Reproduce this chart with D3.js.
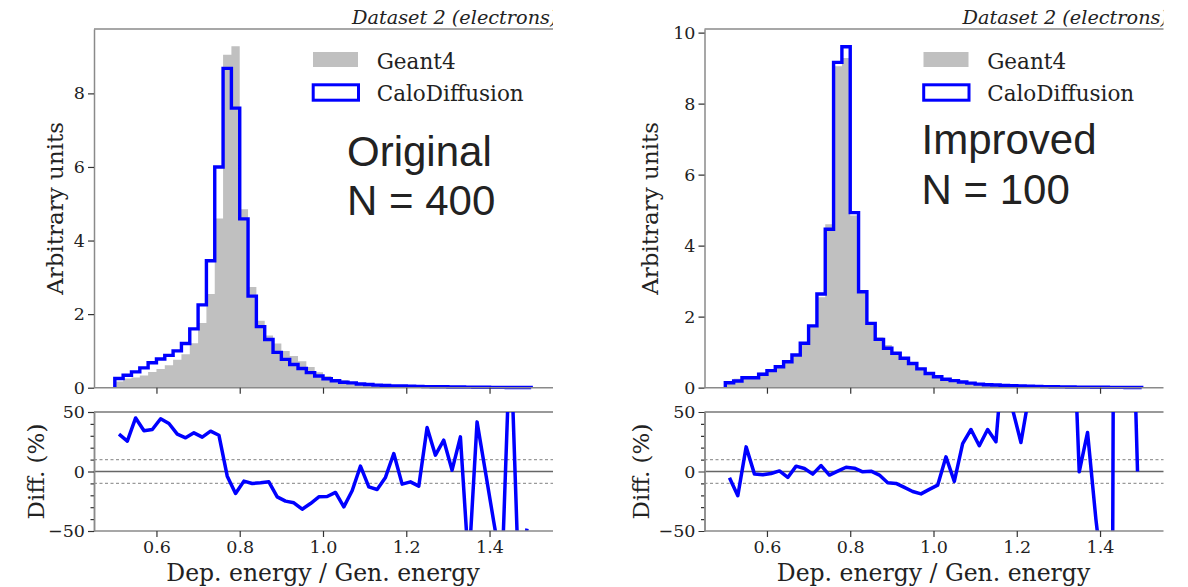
<!DOCTYPE html>
<html>
<head>
<meta charset="utf-8">
<script src="https://cdn.jsdelivr.net/npm/d3@7"></script>
<style>
  body { margin: 0; background: #fff; }
  svg text { fill: #222; }
  .serif { font-family: "DejaVu Serif", serif; }
  .sans { font-family: "Liberation Sans", Arial, sans-serif; }
</style>
</head>
<body>
<svg id="chart" width="1188" height="587"></svg>
<script>
// histogram binning (x = deposited / generated energy)
const binLow = 0.5
const binWidth = 0.02
const nBins = 50

const xTicks = [0.6, 0.8, 1.0, 1.2, 1.4]
const diffTicks = [-50, 0, 50]
const diffMinor = [-40, -30, -20, -10, 10, 20, 30, 40]

// Geant4 reference (same in both panels)
const geant4 = [0.17, 0.25, 0.28, 0.33, 0.43, 0.51, 0.61, 0.76, 0.91, 1.21,
  1.76, 2.55, 4.6, 9.05, 9.28, 4.85, 2.74, 1.82, 1.42, 1.2,
  1.0, 0.86, 0.72, 0.56, 0.42, 0.32, 0.22, 0.2, 0.15, 0.11,
  0.09, 0.075, 0.063, 0.05, 0.045, 0.04, 0.035, 0.028, 0.024, 0.02,
  0.018, 0.015, 0.013, 0.011, 0.01, 0.008, 0.007, 0.006, 0.005, 0.004]

// CaloDiffusion, original (N = 400)
const caloOriginal = [0.25, 0.34, 0.43, 0.54, 0.68, 0.78, 0.88, 1.0, 1.2, 1.6,
  2.25, 3.45, 6.0, 8.68, 7.6, 4.59, 2.49, 1.66, 1.31, 0.96,
  0.77, 0.63, 0.52, 0.41, 0.32, 0.245, 0.19, 0.15, 0.13, 0.1,
  0.085, 0.07, 0.06, 0.05, 0.045, 0.04, 0.035, 0.03, 0.027, 0.024,
  0.02, 0.018, 0.015, 0.013, 0.011, 0.01, 0.008, 0.007, 0.006, 0.005]

// CaloDiffusion, improved (N = 100)
const caloImproved = [0.14, 0.19, 0.28, 0.28, 0.38, 0.48, 0.59, 0.73, 0.92, 1.25,
  1.74, 2.64, 4.46, 9.16, 9.6, 4.93, 2.7, 1.81, 1.36, 1.11,
  0.97, 0.83, 0.68, 0.53, 0.4, 0.31, 0.24, 0.2, 0.16, 0.13,
  0.1, 0.085, 0.075, 0.065, 0.055, 0.048, 0.042, 0.036, 0.031, 0.027,
  0.023, 0.02, 0.017, 0.015, 0.013, 0.011, 0.009, 0.008, 0.007, 0.006]

// relative difference in %, one value per bin centre
const diffOriginal = [31.4, 25.5, 45, 34.2, 35.3, 44.3, 40.3, 31.4, 28.3, 32.5,
  28.9, 33.9, 30.5, -3.9, -18.5, -8.1, -10.1, -9.5, -8.7, -21.3,
  -24.9, -26.3, -31.7, -26.9, -21.3, -21, -17.6, -29.7, -16.2, 4.5,
  -12.9, -15.1, -5, 15.1, -10.6, -8.7, -12.3, 37, 13.7, 26.3,
  1.1, 29.1, -80, 41.7, 0, -42, -83, 117, -92, -48]

const diffImproved = [-5.3, -20.4, 20.7, -2.2, -2.8, -1.7, 0.5, -5, 4.5, 2.5,
  -2.2, 5, -3, 0.3, 3.6, 2.8, -0.3, 0.3, -3, -9.5,
  -10, -13.4, -16.8, -18.8, -15, -11.5, 12.3, -8.4, 23.5, 35.3,
  21.6, 35.3, 25, 110, 52, 24.4, 65, 150, 120, 200,
  140, 180, -0.3, 32.8, -40, -100, -100, 1900, 250, 0]

const panels = [
  { ox: 0, calo: caloOriginal, diff: diffOriginal, yMax: 9.75, yTicks: [0, 2, 4, 6, 8],
    note: ["Original", "N = 400"], noteX: 347, noteY: [166, 215], clipW: 553 },
  { ox: 610.5, calo: caloImproved, diff: diffImproved, yMax: 10.1, yTicks: [0, 2, 4, 6, 8, 10],
    note: ["Improved", "N = 100"], noteX: 311, noteY: [154, 204], clipW: 553 }
]

const svg = d3.select("#chart")
const spine = "#8a8a8a"
const top_y = [29, 387.7]
const diff_y = [531, 412]

const edges = d3.range(nBins + 1).map(i => binLow + i * binWidth)
const centers = d3.range(nBins).map(i => binLow + (i + 0.5) * binWidth)

function style_axis(g, size) {
  g.select(".domain").attr("stroke", spine).attr("stroke-width", 1.5)
  g.selectAll(".tick line").attr("stroke", "#333").attr("stroke-width", 1.2)
  g.selectAll(".tick text").attr("class", "serif").style("font-size", size + "px").attr("fill", "#222")
}

function draw_panel(p, idx) {
  const clipId = "clip_panel_" + idx
  svg.append("clipPath").attr("id", clipId)
    .append("rect").attr("x", p.ox).attr("y", 0).attr("width", p.clipW).attr("height", 587)
  const g = svg.append("g").attr("clip-path", `url(#${clipId})`)

  const x = d3.scaleLinear().domain([0.45, 1.55]).range([p.ox + 94, p.ox + 552])
  const y = d3.scaleLinear().domain([0, p.yMax]).range([top_y[1], top_y[0]])
  const yd = d3.scaleLinear().domain([-50, 50]).range(diff_y)

  // ---- top histogram ----
  const areaPts = geant4.map((v, i) => [edges[i], v]).concat([[edges[nBins], geant4[nBins - 1]]])
  g.append("path")
    .attr("d", d3.area().curve(d3.curveStepAfter)
      .x(d => x(d[0])).y0(y(0)).y1(d => y(d[1]))(areaPts))
    .attr("fill", "#c0c0c0")

  const stepPts = [[edges[0], 0]]
    .concat(p.calo.map((v, i) => [edges[i], v]))
    .concat([[edges[nBins], p.calo[nBins - 1]], [edges[nBins], 0]])
  g.append("path")
    .attr("d", d3.line().curve(d3.curveStepAfter).x(d => x(d[0])).y(d => y(d[1]))(stepPts))
    .attr("fill", "none").attr("stroke", "#0000ff").attr("stroke-width", 3.4)

  // spines
  g.append("line").attr("x1", x.range()[0]).attr("x2", x.range()[1] + 2)
    .attr("y1", top_y[0]).attr("y2", top_y[0]).attr("stroke", spine).attr("stroke-width", 1.5)

  const yAxis = g.append("g").attr("transform", `translate(${x.range()[0]},0)`)
    .call(d3.axisLeft(y).tickValues(p.yTicks).tickSize(6).tickSizeOuter(0).tickPadding(3).tickFormat(d3.format("d")))
  style_axis(yAxis, 17.5)

  const xAxisTop = g.append("g").attr("transform", `translate(0,${top_y[1]})`)
    .call(d3.axisBottom(x).tickValues(xTicks).tickSize(6).tickSizeOuter(0).tickFormat(""))
  style_axis(xAxisTop, 17)
  xAxisTop.select(".domain").attr("d", `M${x.range()[0]},0H${x.range()[1] + 2}`)

  g.append("text").attr("class", "serif")
    .attr("transform", `translate(${p.ox + (idx ? 47.5 : 63)},${(top_y[0] + top_y[1]) / 2}) rotate(-90)`)
    .attr("text-anchor", "middle").style("font-size", "23px").text("Arbitrary units")

  // title
  g.append("text").attr("class", "serif").attr("x", p.ox + 352).attr("y", 24)
    .style("font-size", "19.3px").style("font-style", "italic").text("Dataset 2 (electrons)")

  // legend
  g.append("rect").attr("x", p.ox + 313).attr("y", 52).attr("width", 45).attr("height", 15).attr("fill", "#c0c0c0")
  g.append("rect").attr("x", p.ox + 313.2).attr("y", 84.8).attr("width", 45.3).attr("height", 15.4)
    .attr("fill", "none").attr("stroke", "#0000ff").attr("stroke-width", 3)
  g.append("text").attr("class", "serif").attr("x", p.ox + 376.7).attr("y", 68.5)
    .style("font-size", "21.5px").text("Geant4")
  g.append("text").attr("class", "serif").attr("x", p.ox + 376.7).attr("y", 100.5)
    .style("font-size", "21.5px").text("CaloDiffusion")

  // annotation
  p.note.forEach((t, k) => {
    g.append("text").attr("class", "sans").attr("x", p.ox + p.noteX).attr("y", p.noteY[k])
      .style("font-size", "42px").attr("fill", "#000").text(t)
  })

  // ---- ratio panel ----
  const hline = (v, color, w, dash) => g.append("line")
    .attr("x1", x.range()[0]).attr("x2", x.range()[1] + 2)
    .attr("y1", yd(v)).attr("y2", yd(v))
    .attr("stroke", color).attr("stroke-width", w).attr("stroke-dasharray", dash)
  hline(10, "#9a9a9a", 1.2, "3,2.5")
  hline(-10, "#9a9a9a", 1.2, "3,2.5")
  hline(0, "#666", 1.6, null)
  hline(50, "#777", 1.5, null)

  const diffClip = "clip_diff_" + idx
  svg.append("clipPath").attr("id", diffClip)
    .append("rect").attr("x", x.range()[0]).attr("y", diff_y[1]).attr("width", x.range()[1] - x.range()[0])
    .attr("height", diff_y[0] - diff_y[1])
  g.append("g").attr("clip-path", `url(#${diffClip})`)
    .append("path")
    .attr("d", d3.line().x((d, i) => x(centers[i])).y(d => yd(d))(p.diff))
    .attr("fill", "none").attr("stroke", "#0000ff").attr("stroke-width", 3.5).attr("stroke-linejoin", "round")

  const ydMinor = g.append("g").attr("transform", `translate(${x.range()[0]},0)`)
    .call(d3.axisLeft(yd).tickValues(diffMinor).tickSize(3.5).tickSizeOuter(0).tickFormat(""))
  style_axis(ydMinor, 17)
  const ydAxis = g.append("g").attr("transform", `translate(${x.range()[0]},0)`)
    .call(d3.axisLeft(yd).tickValues(diffTicks).tickSize(6).tickSizeOuter(0).tickPadding(3))
  style_axis(ydAxis, 17.5)

  const xAxis = g.append("g").attr("transform", `translate(0,${diff_y[0]})`)
    .call(d3.axisBottom(x).tickValues(xTicks).tickSize(6).tickSizeOuter(0).tickPadding(4).tickFormat(d3.format(".1f")))
  style_axis(xAxis, 17.5)
  xAxis.select(".domain").attr("d", `M${x.range()[0]},0H${x.range()[1] + 2}`)

  g.append("text").attr("class", "serif")
    .attr("transform", `translate(${p.ox + (idx ? 38 : 44)},${(diff_y[0] + diff_y[1]) / 2}) rotate(-90)`)
    .attr("text-anchor", "middle").style("font-size", "23px").text("Diff.  (%)")

  g.append("text").attr("class", "serif")
    .attr("x", (x.range()[0] + x.range()[1]) / 2).attr("y", 581)
    .attr("text-anchor", "middle").style("font-size", "23.5px").text("Dep. energy / Gen. energy")
}

panels.forEach((p, i) => draw_panel(p, i))
</script>
</body>
</html>
